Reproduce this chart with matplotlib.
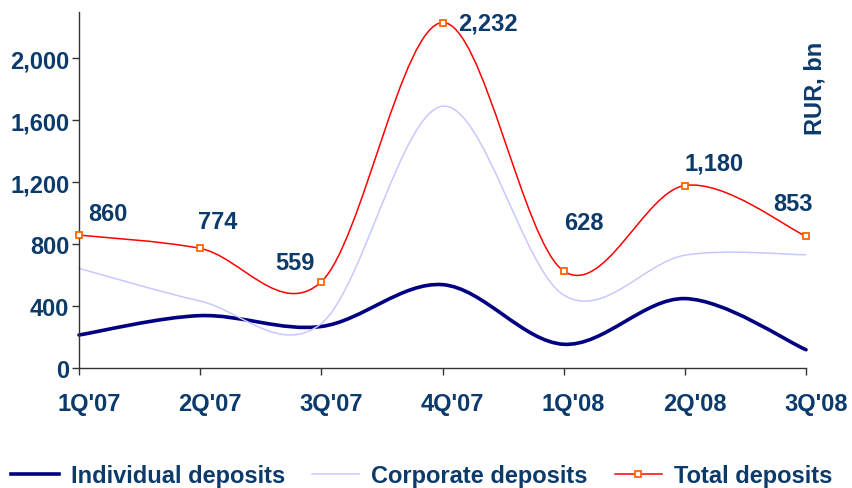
import matplotlib
matplotlib.use("Agg")
import matplotlib.pyplot as plt
from matplotlib.path import Path
from matplotlib.patches import PathPatch
from matplotlib.lines import Line2D
from matplotlib.transforms import ScaledTranslation

quarters = ["1Q'07", "2Q'07", "3Q'07", "4Q'07", "1Q'08", "2Q'08", "3Q'08"]
individual = [215, 340, 270, 540, 155, 450, 120]
corporate = [645, 434, 289, 1692, 473, 730, 733]
total = [860, 774, 559, 2232, 628, 1180, 853]

# hand-placed value labels (pixel offsets from each point)
label_offsets = [(29, 22), (18, 27), (-26, 19), (45, 0), (20, 49), (29, 23), (-13, 33)]

TXT = "#0B3A6B"
NAVY = "#000080"
LAVENDER = "#C8C8FF"
RED = "#FF0000"
ORANGE = "#FF6600"

plt.rcParams["font.family"] = ["Liberation Sans", "DejaVu Sans"]
plt.rcParams["font.weight"] = "bold"
FS = 17


def smooth(xs, ys):
    """Excel-style smoothed line: cubic Bezier segments through every point."""
    n = len(xs)
    verts = [(xs[0], ys[0])]
    codes = [Path.MOVETO]
    for i in range(n - 1):
        a = max(i - 1, 0)
        b = min(i + 2, n - 1)
        c1 = (xs[i] + (xs[i + 1] - xs[a]) / 6, ys[i] + (ys[i + 1] - ys[a]) / 6)
        c2 = (xs[i + 1] - (xs[b] - xs[i]) / 6, ys[i + 1] - (ys[b] - ys[i]) / 6)
        verts += [c1, c2, (xs[i + 1], ys[i + 1])]
        codes += [Path.CURVE4] * 3
    return Path(verts, codes)


fig = plt.figure(figsize=(8.52, 4.89), dpi=100)
ax = fig.add_axes([79 / 852, 1 - 369.3 / 489, (806 - 79) / 852, (369.3 - 13) / 489])

x = list(range(len(quarters)))
for ys, col, lw in [(individual, NAVY, 2.6), (corporate, LAVENDER, 1.1), (total, RED, 1.1)]:
    ax.add_patch(PathPatch(smooth(x, ys), fc="none", ec=col, lw=lw,
                           capstyle="round", joinstyle="round", clip_on=False))
ax.plot(x, total, ls="none", marker="s", ms=4.5, mfc="white", mec=ORANGE,
        mew=1.3, clip_on=False, zorder=5)

for xi, v, (dx, dy) in zip(x, total, label_offsets):
    ax.annotate(f"{v:,}", (xi, v), xytext=(dx, dy), textcoords="offset pixels",
                ha="center", va="center", fontsize=FS, fontweight="bold", color=TXT)

ax.set_xlim(0, 6)
ax.set_ylim(0, 2300)
ax.set_xticks(x)
ax.set_xticklabels(quarters)
ax.set_yticks(range(0, 2001, 400))
ax.set_yticklabels([f"{t:,}" for t in range(0, 2001, 400)])
ax.tick_params(axis="x", length=5, width=1, color="#333333", pad=12,
               labelsize=FS, labelcolor=TXT)
ax.tick_params(axis="y", length=5, width=1, color="#333333", pad=2,
               labelsize=FS, labelcolor=TXT)
shift = ScaledTranslation(10 / 100, 0, fig.dpi_scale_trans)
for lab in ax.get_xticklabels():
    lab.set_transform(lab.get_transform() + shift)
    lab.set_fontweight("bold")
for lab in ax.get_yticklabels():
    lab.set_fontweight("bold")

for s in ["top", "right"]:
    ax.spines[s].set_visible(False)
for s in ["left", "bottom"]:
    ax.spines[s].set_color("#333333")
    ax.spines[s].set_linewidth(1)

fig.text(815 / 852, 1 - 88 / 489, "RUR, bn", rotation=90, ha="center", va="center",
         fontsize=FS, fontweight="bold", color=TXT)

handles = [
    Line2D([], [], color=NAVY, lw=2.6),
    Line2D([], [], color=LAVENDER, lw=1.1),
    Line2D([], [], color=RED, lw=1.1, marker="s", ms=4.5, mfc="white", mec=ORANGE, mew=1.3),
]
fig.legend(handles, ["Individual deposits", "Corporate deposits", "Total deposits"],
           loc="center", bbox_to_anchor=(0.495, 1 - 477 / 489), ncol=3, frameon=False,
           fontsize=FS, handlelength=2.0, handletextpad=0.5, columnspacing=1.15,
           labelcolor=TXT, borderpad=0)

fig.savefig("out.png", dpi=100, facecolor="white")
